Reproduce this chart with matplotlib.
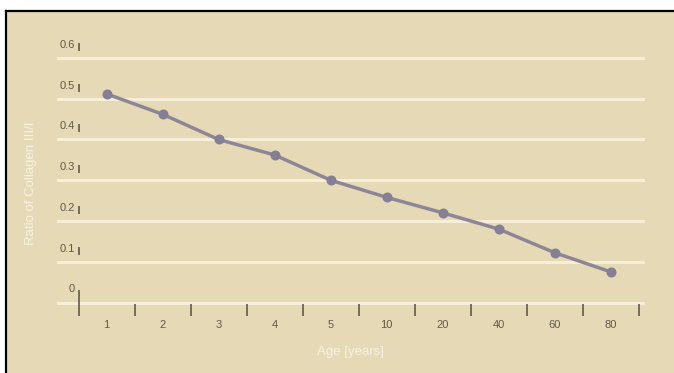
import numpy as np
import matplotlib.pyplot as plt
from matplotlib.patches import Rectangle
from matplotlib.lines import Line2D

## Data: collagen III/I ratio by age group
ages = ['1', '2', '3', '4', '5', '10', '20', '40', '60', '80']
ratio = [0.512, 0.462, 0.40, 0.362, 0.30, 0.258, 0.22, 0.18, 0.122, 0.075]
yticks = [0, 0.1, 0.2, 0.3, 0.4, 0.5, 0.6]
ylabels = ['0', '0.1', '0.2', '0.3', '0.4', '0.5', '0.6']

W, H = 674, 373
bg = '#E6DAB6'
grid_col = '#F6EED6'
line_col = '#8C8697'
tick_col = '#625A49'
fam = ['Liberation Sans Narrow', 'Liberation Sans']

fig = plt.figure(figsize=(W / 100, H / 100), dpi=100)
fig.patch.set_facecolor('white')

## beige panel with black top and left border
fig.patches.append(Rectangle((6 / W, 0), 1 - 6 / W, 1 - 11 / H, transform=fig.transFigure,
                             facecolor=bg, edgecolor='none', zorder=-10))
fig.lines.append(Line2D([6 / W, 1], [1 - 11 / H, 1 - 11 / H], transform=fig.transFigure,
                        color='black', lw=1.6, zorder=-9))
fig.lines.append(Line2D([6 / W, 6 / W], [0, 1 - 11 / H], transform=fig.transFigure,
                        color='black', lw=1.6, zorder=-9))

## axes placed in pixel terms
left, right, top, bottom = 57, 645, 40, 318
ax = fig.add_axes([left / W, 1 - bottom / H, (right - left) / W, (bottom - top) / H])
ax.set_facecolor('none')
for s in ax.spines.values():
    s.set_visible(False)
ax.set_xticks([])
ax.set_yticks([])

px = 56.05        # pixels per category
py = 407.5        # pixels per unit ratio
x0 = 78.5         # pixel of first boundary tick
y0 = 302.5        # pixel of zero
ax.set_xlim(-0.5 - (x0 - left) / px, -0.5 + (right - x0) / px)
ax.set_ylim(-(bottom - y0) / py, (y0 - top) / py)

## grid lines
for v in yticks:
    ax.axhline(v, color=grid_col, lw=2.2, zorder=1)

## y tick labels with short bars
xbar = -0.5
for v, lab in zip(yticks, ylabels):
    ax.text(xbar - 0.06, v + 13 / py, lab, ha='right', va='center',
            fontsize=8, color=tick_col, family=fam)
    if v == 0:
        ax.plot([xbar, xbar], [v + 13 / py, v - 13 / py], color=tick_col, lw=1.2,
                clip_on=False, solid_capstyle='butt')
    else:
        ax.plot([xbar, xbar], [v + 7 / py, v + 15 / py], color=tick_col, lw=1.2,
                clip_on=False, solid_capstyle='butt')

## x boundary ticks and category labels
xs = np.arange(len(ages))
for b in np.arange(-0.5, len(ages), 1.0)[1:]:
    ax.plot([b, b], [-1 / py, -13 / py], color=tick_col, lw=1.2, clip_on=False,
            solid_capstyle='butt')
for x, lab in zip(xs, ages):
    ax.text(x, -22 / py, lab, ha='center', va='center', fontsize=8, color=tick_col,
            family=fam, clip_on=False)

## series
ax.plot(xs, ratio, color=line_col, lw=2.5, marker='o', markersize=6.2,
        markerfacecolor='#857F96', markeredgecolor='#857F96', zorder=3)

## axis titles
fig.text(350 / W, 1 - 352 / H, 'Age [years]', ha='center', va='center', fontsize=9.5,
         color='#F7F2E4', family=fam)
fig.text(31 / W, 1 - 183 / H, 'Ratio of Collagen III/I', ha='center', va='center',
         fontsize=9.5, color='#F7F2E4', rotation=90, family=fam)

fig.savefig('out.png', dpi=100, facecolor=fig.get_facecolor())
